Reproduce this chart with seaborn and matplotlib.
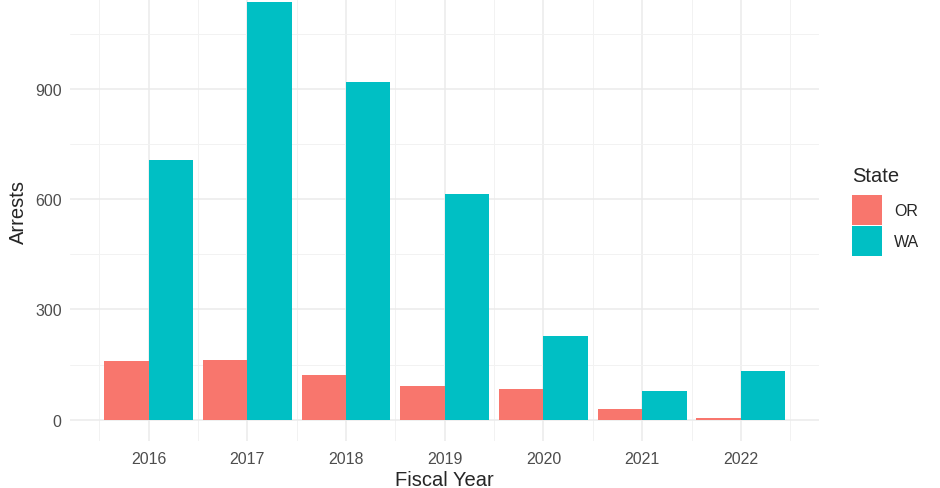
import pandas as pd
import matplotlib
matplotlib.use("Agg")
import matplotlib.pyplot as plt
import seaborn as sns

years = [2016, 2017, 2018, 2019, 2020, 2021, 2022]
or_arrests = [161, 163, 122, 93, 83, 30, 5]
wa_arrests = [707, 1136, 918, 614, 228, 78, 132]
states = ["OR", "WA"]
state_colors = ["#F8766D", "#00BFC4"]

df = pd.DataFrame({
    "Fiscal Year": years * 2,
    "Arrests": or_arrests + wa_arrests,
    "State": ["OR"] * len(years) + ["WA"] * len(years),
})

sns.set_style("white")
plt.rcParams['font.family'] = ['Liberation Sans', 'DejaVu Sans']

fig = plt.figure(figsize=(9.4, 4.89), dpi=100)
ax = fig.add_axes([0.0745, 0.0969, 0.7972, 0.9399])

sns.barplot(data=df, x="Fiscal Year", y="Arrests", hue="State",
            hue_order=states, palette=state_colors, native_scale=True,
            width=0.9, saturation=1, linewidth=0, ax=ax, legend=True)

# ggplot-like expansion of 5% on both axes
ymax = max(wa_arrests)
ax.set_ylim(-0.05 * ymax, 1.05 * ymax)
xlo = years[0] - 0.45
xhi = years[-1] + 0.45
span = xhi - xlo
ax.set_xlim(xlo - 0.05 * span, xhi + 0.05 * span)

ax.set_xticks(years)
ax.set_xticks([y + 0.5 for y in [years[0] - 1] + years], minor=True)
ax.set_yticks([0, 300, 600, 900])
ax.set_yticks([150, 450, 750, 1050], minor=True)
ax.set_axisbelow(True)
ax.grid(which="major", color="#EBEBEB", linewidth=1.1)
ax.grid(which="minor", color="#F2F2F2", linewidth=0.7)
for s in ax.spines.values():
    s.set_visible(False)
ax.tick_params(which="both", length=0)
ax.tick_params(axis="x", labelsize=11.5, labelcolor="#4D4D4D", pad=7.5)
ax.tick_params(axis="y", labelsize=11.5, labelcolor="#4D4D4D", pad=6)
ax.set_xlabel("Fiscal Year", fontsize=14.5, labelpad=3)
ax.set_ylabel("Arrests", fontsize=14.5, labelpad=5)

# legend title drawn separately so the gap to the keys matches ggplot
fig.text(0.9064, 0.6278, "State", fontsize=14.5, ha="left", va="baseline")
handles, labels = ax.get_legend_handles_labels()
ax.legend(handles, labels, loc="upper left",
          bbox_to_anchor=(0.9064, 0.5998), bbox_transform=fig.transFigure,
          frameon=False, fontsize=11.5,
          handlelength=1.875, handleheight=2.5, handletextpad=0.75,
          labelspacing=0.12, borderaxespad=0, borderpad=0)

fig.savefig("out.png", dpi=100)
